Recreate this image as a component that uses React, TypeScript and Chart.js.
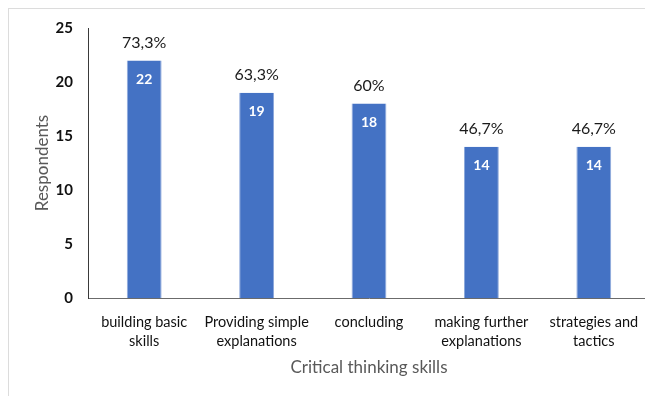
import React, { useEffect, useRef } from "react";
import { Chart, registerables } from "chart.js";

Chart.register(...registerables);

const categories: string[][] = [
  ["building basic", "skills"],
  ["Providing simple", "explanations"],
  ["concluding"],
  ["making further", "explanations"],
  ["strategies and", "tactics"],
];
const respondents: number[] = [22, 19, 18, 14, 14];
const percentLabels: string[] = ["73,3%", "63,3%", "60%", "46,7%", "46,7%"];
const yTicks: number[] = [0, 5, 10, 15, 20, 25];

const FONT = "Lato, 'Open Sans', sans-serif";

const labelPlugin = {
  id: "barLabels",
  afterDatasetsDraw(chart: any) {
    const { ctx } = chart;
    const meta = chart.getDatasetMeta(0);
    ctx.save();
    ctx.textAlign = "center";
    ctx.textBaseline = "middle";
    meta.data.forEach((bar: any, i: number) => {
      const { x, y } = bar.getProps(["x", "y"], true);
      ctx.fillStyle = "#ffffff";
      ctx.font = `bold 14px ${FONT}`;
      ctx.fillText(String(respondents[i]), x, y + 19);
      ctx.fillStyle = "#1a1a1a";
      ctx.font = `16px ${FONT}`;
      ctx.fillText(percentLabels[i], x, y - 18);
    });
    ctx.restore();
  },
};

export default function App() {
  const ref = useRef<HTMLCanvasElement | null>(null);

  useEffect(() => {
    if (!ref.current) return;
    const chart = new Chart(ref.current, {
      type: "bar",
      data: {
        labels: categories,
        datasets: [
          {
            data: respondents,
            backgroundColor: "#4472C4",
            borderColor: "#8FAADC",
            borderWidth: { left: 1, right: 1, top: 0, bottom: 0 },
            barPercentage: 0.31,
            categoryPercentage: 1,
          },
        ],
      },
      options: {
        animation: false,
        responsive: false,
        maintainAspectRatio: false,
        layout: { padding: { top: 19, right: 3, bottom: 0, left: 0 } },
        plugins: {
          legend: { display: false },
          tooltip: { enabled: false },
        },
        scales: {
          x: {
            grid: { display: false, drawTicks: false },
            border: { display: true, color: "#6b6b6b", width: 1 },
            ticks: {
              color: "#111111",
              font: { family: FONT, size: 14.5, lineHeight: 1.3 },
              padding: 15,
              maxRotation: 0,
              autoSkip: false,
            },
            title: {
              display: true,
              text: "Critical thinking skills",
              color: "#595959",
              font: { family: FONT, size: 17 },
              padding: { top: 0, bottom: 18 },
            },
            afterFit: (scale: any) => {
              scale.height = 98;
              scale.paddingLeft = 0;
              scale.paddingRight = 0;
            },
          },
          y: {
            min: 0,
            max: 25,
            afterBuildTicks: (scale: any) => {
              scale.ticks = yTicks.map((v) => ({ value: v }));
            },
            grid: { display: false, drawTicks: false },
            border: { display: true, color: "#3a3a3a", width: 1 },
            ticks: {
              color: "#111111",
              font: { family: FONT, size: 15, weight: "bold" },
              padding: 15,
            },
            title: {
              display: true,
              text: "Respondents",
              color: "#595959",
              font: { family: FONT, size: 17 },
              padding: { top: 23, bottom: 0 },
            },
            afterFit: (scale: any) => {
              scale.width = 79;
              scale.paddingTop = 0;
              scale.paddingBottom = 0;
            },
          },
        },
      },
      plugins: [labelPlugin],
    });
    return () => chart.destroy();
  }, []);

  return (
    <div
      style={{
        width: 645,
        height: 388,
        borderTop: "1px solid #dcdcdc",
        borderLeft: "1px solid #dcdcdc",
        background: "#ffffff",
      }}
    >
      <canvas ref={ref} width={644} height={387} style={{ display: "block" }} />
    </div>
  );
}
